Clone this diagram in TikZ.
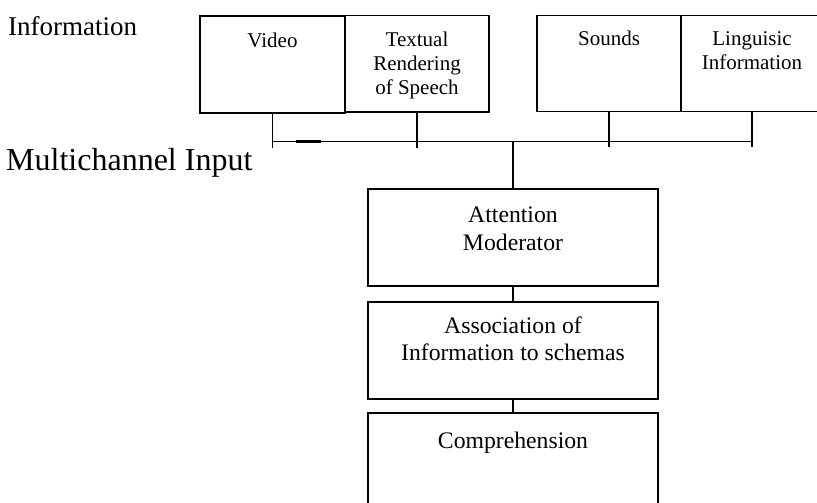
\documentclass[tikz,border=0pt]{standalone}
\usepackage{fontspec}
\setmainfont{Liberation Serif}
\begin{document}
\begin{tikzpicture}[x=1pt,y=-1pt,
  box/.style={draw, line width=1.6pt, rectangle, inner sep=0pt, outer sep=0pt, anchor=north west},
  link/.style={line width=1.6pt},
  busline/.style={line width=1pt},
  txtS/.style={font=\fontsize{21}{24}\selectfont, align=center, anchor=base, inner sep=0pt},
  txtL/.style={font=\fontsize{23.7}{27.5}\selectfont, align=center, anchor=base, inner sep=0pt}]
\useasboundingbox (0,0) rectangle (817,503);
\clip (0,0) rectangle (817,503);
% top boxes
\node[box, line width=2pt, minimum width=145, minimum height=97] (video) at (200,16) {};
\node[box, minimum width=144, minimum height=96.5] (textual) at (345,15.5) {};
\node[box, minimum width=144, minimum height=96] (sounds) at (537,15.5) {};
\node[box, minimum width=142, minimum height=96] (ling) at (681,15.5) {};
\node[txtS] (videoT) at (272.5,48) {Video};
\node[txtS] (textT) at (417,94.3) {Textual\\Rendering\\of Speech};
\node[txtS] (soundT) at (609,46) {Sounds};
\node[txtS] (lingT) at (752,70) {Linguisic\\Information};
% side labels
\node[font=\fontsize{27}{30}\selectfont, anchor=base west, inner sep=0pt] (info) at (8,36) {Information};
\node[font=\fontsize{32}{35}\selectfont, anchor=base west, inner sep=0pt] (multi) at (6,170) {Multichannel Input};
% lower boxes
\node[box, minimum width=290, minimum height=97] (att) at (368,189) {};
\node[txtL] (attT) at (513,250) {Attention\\Moderator};
\node[box, minimum width=290, minimum height=97] (assoc) at (368,302) {};
\node[txtL] (assocT) at (513,360.7) {Association of\\Information to schemas};
\node[box, minimum width=290, minimum height=110] (comp) at (368,413) {};
\node[txtL] (compT) at (513,448.7) {Comprehension};
% bus
\coordinate (bv) at (272.5,141.5);
\coordinate (bl) at (752,141.5);
\coordinate (bc) at (513,141.5);
\coordinate (tv) at (272.5,148);
\coordinate (tt) at (417,148);
\coordinate (ts) at (609,147);
\coordinate (tl) at (752,147);
\coordinate (d1) at (296,141.5);
\coordinate (d2) at (321,141.5);
\draw[busline] (bv) -- (bl);
\draw[line width=2.6pt] (d1) -- (d2);
\draw[link] (video.south) -- (tv);
\draw[link] (textual.south) -- (tt);
\draw[link] (sounds.south) -- (ts);
\draw[link] (ling.south) -- (tl);
\draw[link] (bc) -- (att.north);
\draw[link] (att.south) -- (assoc.north);
\draw[link] (assoc.south) -- (comp.north);
\end{tikzpicture}
\end{document}
